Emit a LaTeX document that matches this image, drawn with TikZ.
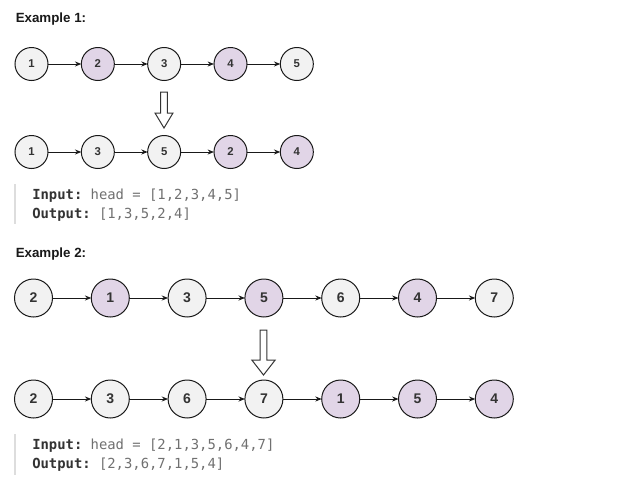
\documentclass[tikz,border=0pt]{standalone}
\usepackage{fontspec}
\setmainfont{Liberation Sans}
\setmonofont{DejaVu Sans Mono}
\usetikzlibrary{arrows.meta,positioning}
\definecolor{nodegray}{HTML}{F2F2F2}
\definecolor{nodepurple}{HTML}{E1D5E7}
\definecolor{codegray}{HTML}{707070}
\definecolor{codedark}{HTML}{333333}
\definecolor{bargray}{HTML}{DDDDDD}

\begin{document}
\begin{tikzpicture}[x=0.75pt,y=-0.75pt,>={Stealth[length=4.8pt,width=3.8pt]},
  title/.style={anchor=west,inner sep=0pt,font=\bfseries\fontsize{10}{12}\selectfont,text=black!90},
  listnode/.style={circle,draw=black!90,line width=0.75pt,fill=nodegray,outer sep=0pt,inner sep=0pt,text=codedark},
  oddnode/.style={listnode},
  evennode/.style={listnode,fill=nodepurple},
  smallrow/.style={minimum size=24.75pt,font=\bfseries\fontsize{8.5}{10}\selectfont},
  bigrow/.style={minimum size=28.5pt,font=\bfseries\fontsize{10.5}{12}\selectfont},
  link/.style={->,line width=0.75pt,black!90},
  hollow/.style={draw=black!80,line width=0.75pt,fill=white,line join=miter},
  codebar/.style={bargray,line width=1.5pt},
  code/.style={anchor=west,inner sep=0pt,font=\ttfamily\fontsize{10.4}{12}\selectfont,text=codedark}]
\useasboundingbox (0,0) rectangle (629,486);

% Example 1
\node[title] (ex1) at (15.5,19.5) {Example 1:};
\begin{scope}[node distance=25pt]
\node[oddnode,smallrow] (a1) at (31.5,64) {1};
\node[evennode,smallrow,right=of a1] (a2) {2};
\node[oddnode,smallrow,right=of a2] (a3) {3};
\node[evennode,smallrow,right=of a3] (a4) {4};
\node[oddnode,smallrow,right=of a4] (a5) {5};
\node[oddnode,smallrow] (b1) at (31.5,152) {1};
\node[oddnode,smallrow,right=of b1] (b3) {3};
\node[oddnode,smallrow,right=of b3] (b5) {5};
\node[evennode,smallrow,right=of b5] (b2) {2};
\node[evennode,smallrow,right=of b2] (b4) {4};
\end{scope}
\draw[link] (a1) -- (a2);
\draw[link] (a2) -- (a3);
\draw[link] (a3) -- (a4);
\draw[link] (a4) -- (a5);
\draw[link] (b1) -- (b3);
\draw[link] (b3) -- (b5);
\draw[link] (b5) -- (b2);
\draw[link] (b2) -- (b4);
\coordinate (turn1) at (164,92);
\draw[hollow] (turn1) ++(-3.3,0) -- ++(0,21) -- ++(-5.7,0) -- ++(9,15)
  -- ++(9,-15) -- ++(-5.7,0) -- ++(0,-21) -- cycle;
\coordinate (bar1top) at (15,184);
\coordinate (bar1bot) at (15,224);
\draw[codebar] (bar1top) -- (bar1bot);
\node[code] (in1) at (32,196) {\textbf{Input:} \textcolor{codegray}{head = [1,2,3,4,5]}};
\node[code] (out1) at (32,214.5) {\textbf{Output:} \textcolor{codegray}{[1,3,5,2,4]}};

% Example 2
\node[title] (ex2) at (15.5,254.5) {Example 2:};
\begin{scope}[node distance=29.1pt]
\node[oddnode,bigrow] (c2) at (33.5,298) {2};
\node[evennode,bigrow,right=of c2] (c1) {1};
\node[oddnode,bigrow,right=of c1] (c3) {3};
\node[evennode,bigrow,right=of c3] (c5) {5};
\node[oddnode,bigrow,right=of c5] (c6) {6};
\node[evennode,bigrow,right=of c6] (c4) {4};
\node[oddnode,bigrow,right=of c4] (c7) {7};
\node[oddnode,bigrow] (d2) at (33.5,399) {2};
\node[oddnode,bigrow,right=of d2] (d3) {3};
\node[oddnode,bigrow,right=of d3] (d6) {6};
\node[oddnode,bigrow,right=of d6] (d7) {7};
\node[evennode,bigrow,right=of d7] (d1) {1};
\node[evennode,bigrow,right=of d1] (d5) {5};
\node[evennode,bigrow,right=of d5] (d4) {4};
\end{scope}
\draw[link] (c2) -- (c1);
\draw[link] (c1) -- (c3);
\draw[link] (c3) -- (c5);
\draw[link] (c5) -- (c6);
\draw[link] (c6) -- (c4);
\draw[link] (c4) -- (c7);
\draw[link] (d2) -- (d3);
\draw[link] (d3) -- (d6);
\draw[link] (d6) -- (d7);
\draw[link] (d7) -- (d1);
\draw[link] (d1) -- (d5);
\draw[link] (d5) -- (d4);
\coordinate (turn2) at (263.5,330);
\draw[hollow] (turn2) ++(-3.3,0) -- ++(0,30) -- ++(-8.4,0) -- ++(11.7,15)
  -- ++(11.7,-15) -- ++(-8.4,0) -- ++(0,-30) -- cycle;
\coordinate (bar2top) at (15,434);
\coordinate (bar2bot) at (15,475);
\draw[codebar] (bar2top) -- (bar2bot);
\node[code] (in2) at (32,446) {\textbf{Input:} \textcolor{codegray}{head = [2,1,3,5,6,4,7]}};
\node[code] (out2) at (32,465) {\textbf{Output:} \textcolor{codegray}{[2,3,6,7,1,5,4]}};
\end{tikzpicture}
\end{document}
